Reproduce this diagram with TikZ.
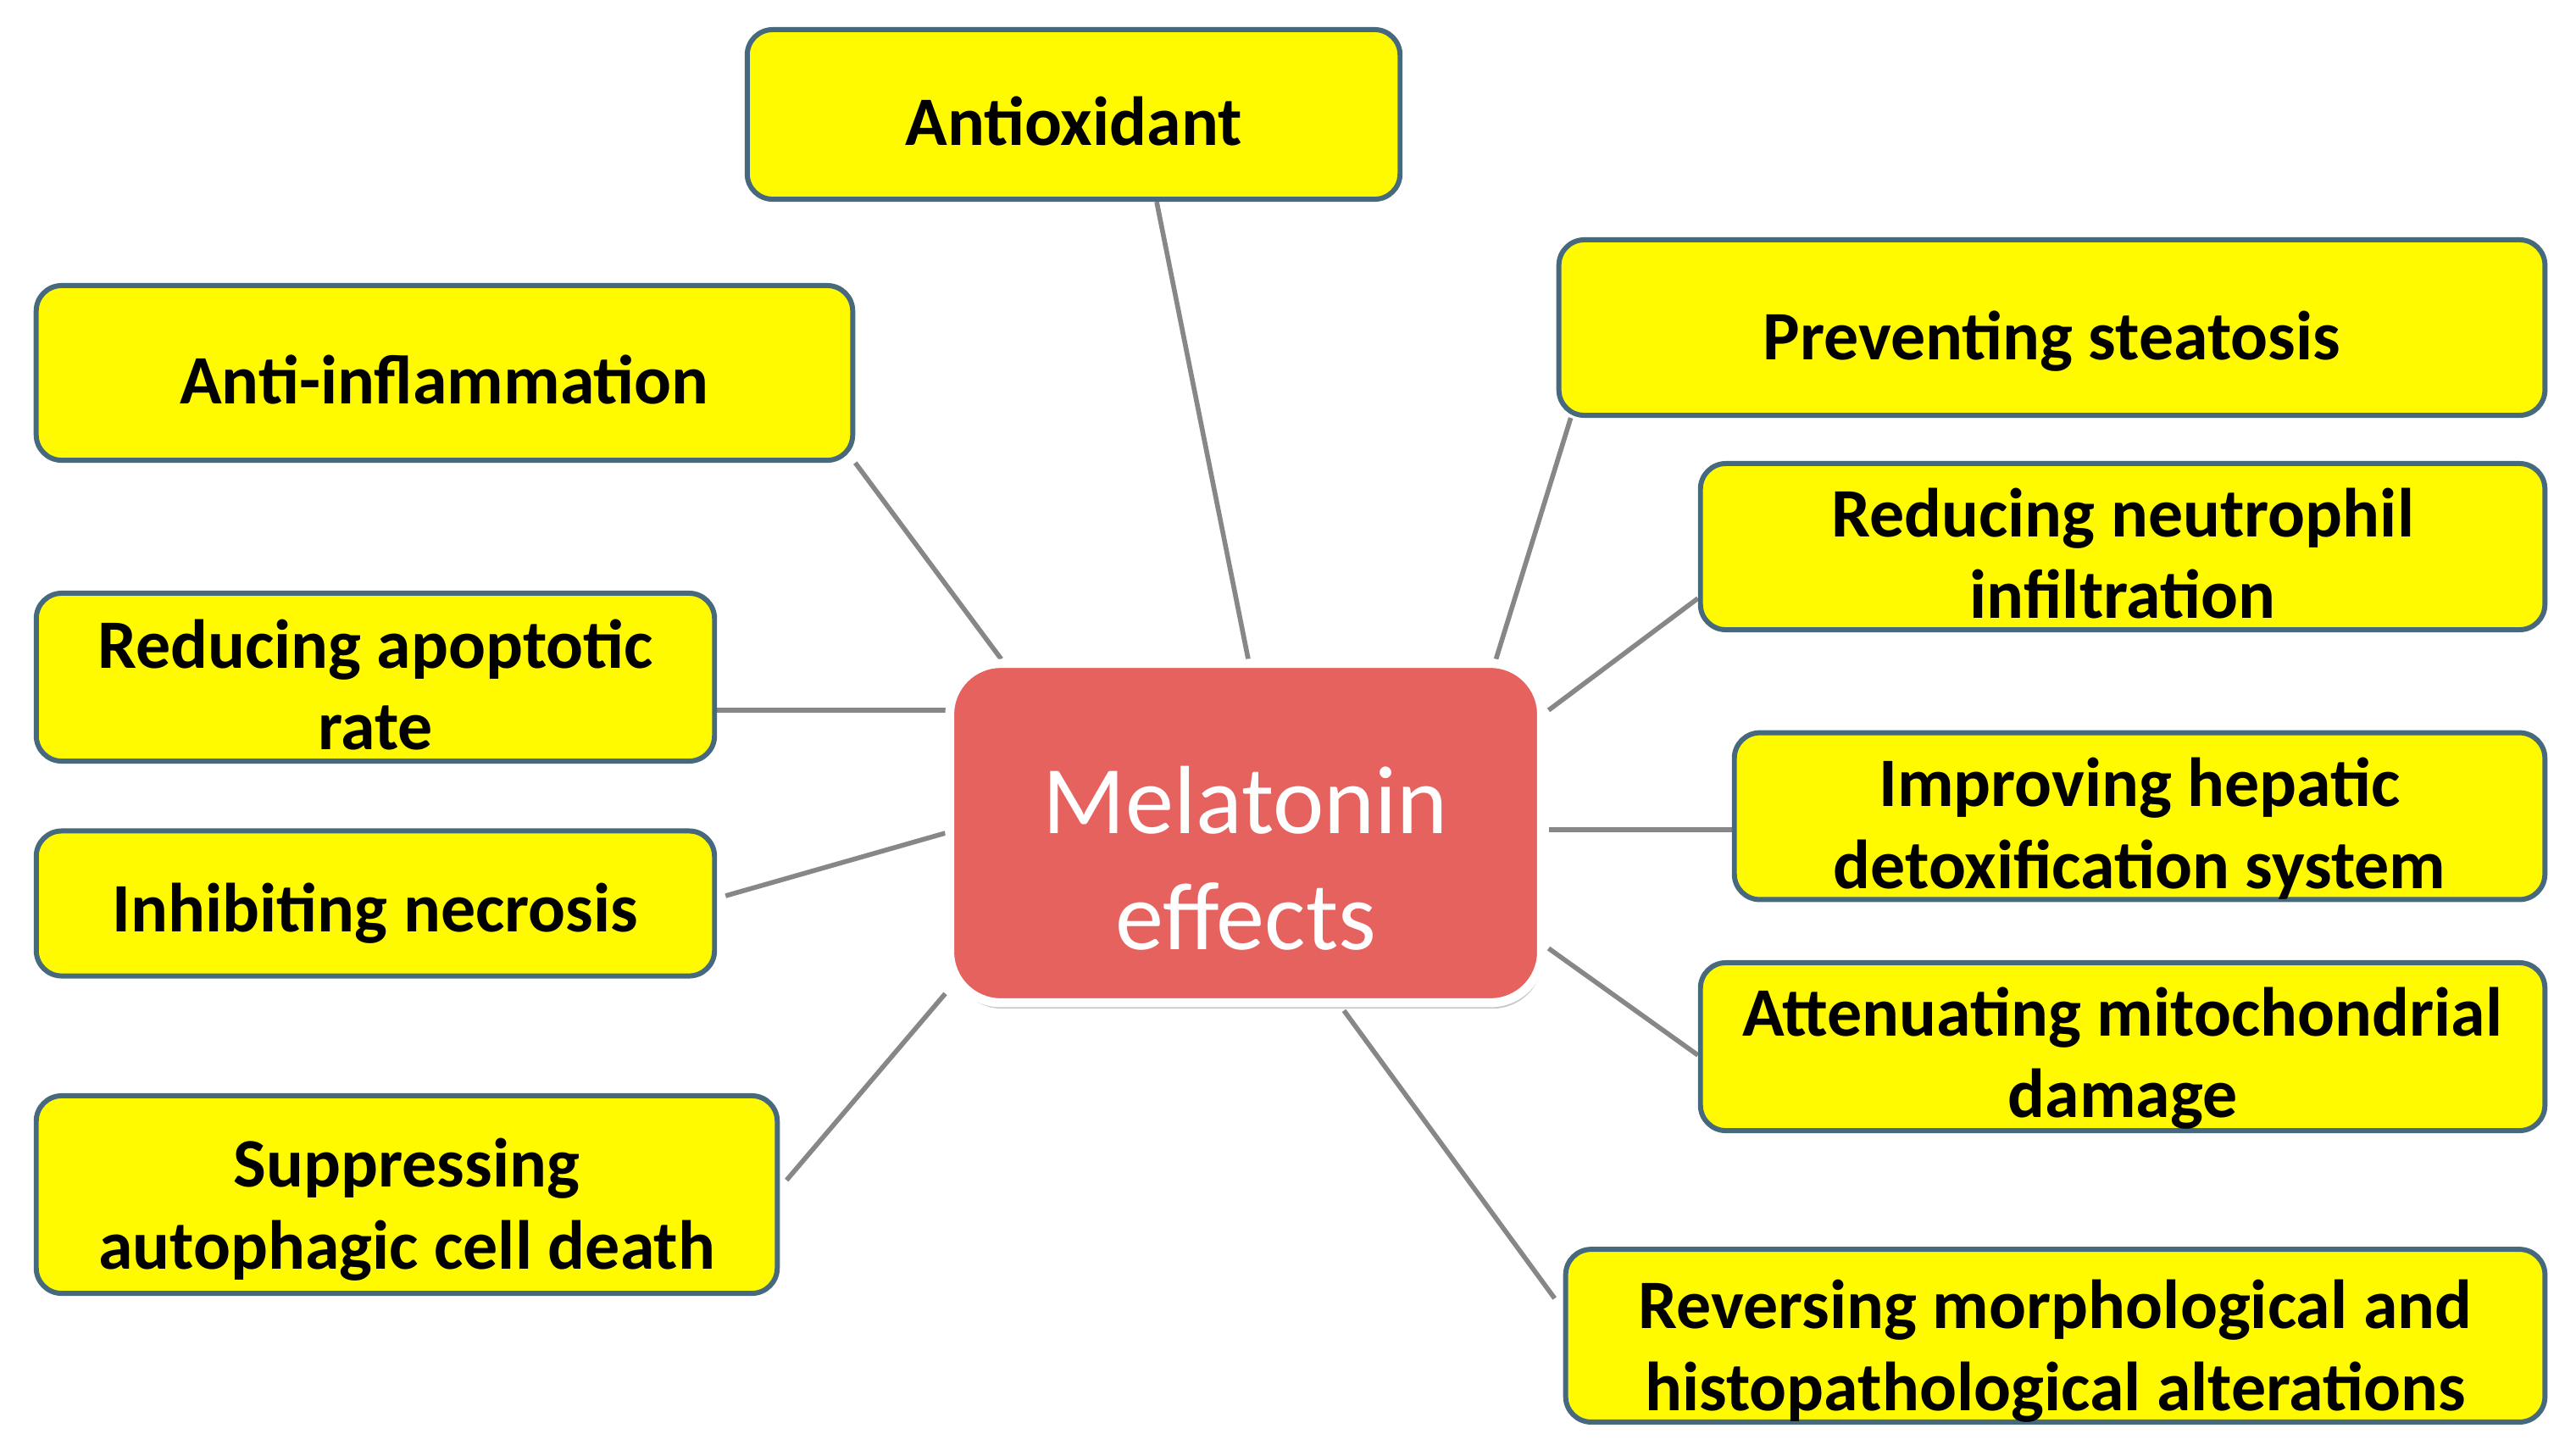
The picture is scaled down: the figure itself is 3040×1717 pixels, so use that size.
\documentclass[tikz,border=0pt]{standalone}
\usepackage{fontspec}
\setmainfont{Carlito}
\usetikzlibrary{calc,shadows,backgrounds}
\definecolor{boxfill}{RGB}{255,250,0}
\definecolor{boxline}{RGB}{70,105,125}
\definecolor{centerfill}{RGB}{229,98,94}
\definecolor{linkgray}{RGB}{135,135,135}
\begin{document}
\begin{tikzpicture}[x=0.01cm,y=-0.01cm,
  lift/.style={execute at begin node={\rule{0pt}{#1}}},
  effect/.style={draw=boxline, fill=boxfill, line width=1.7pt, rounded corners=0.3cm,
    align=center, font=\bfseries\fontsize{23.3}{27.5}\selectfont, inner sep=0pt},
  hub/.style={draw=white, fill=centerfill, line width=3pt, rounded corners=0.6cm,
    align=center, text=white, font=\fontsize{32.5}{39}\selectfont, inner sep=0pt,
    drop shadow={shadow xshift=0.02cm, shadow yshift=-0.07cm, opacity=0.35, fill=black!60}},
  link/.style={draw=linkgray, line width=1.6pt}]
\useasboundingbox (0,0) rectangle (3040,1717);

\node[hub, lift=78.5pt, minimum width=6.98cm, minimum height=4.00cm] (m) at (1470,983) {Melatonin\\effects};

\node[effect, lift=21pt, minimum width=7.70cm, minimum height=2.00cm] (ao) at (1267,135) {Antioxidant};
\node[effect, lift=21pt, minimum width=9.63cm, minimum height=2.06cm] (ai) at (524.5,440) {Anti-inflammation};
\node[effect, lift=49pt, minimum width=8.00cm, minimum height=1.98cm] (ap) at (443,799) {Reducing apoptotic\\rate};
\node[effect, lift=23pt, minimum width=8.00cm, minimum height=1.71cm] (ne) at (443,1066) {Inhibiting necrosis};
\node[effect, lift=54pt, minimum width=8.74cm, minimum height=2.33cm] (su) at (480,1409.5) {Suppressing\\autophagic cell death};
\node[effect, lift=25.3pt, minimum width=11.63cm, minimum height=2.07cm] (st) at (2421.5,386.5) {Preventing steatosis};
\node[effect, lift=48.4pt, minimum width=9.96cm, minimum height=1.96cm] (nu) at (2505,645) {Reducing neutrophil\\infiltration};
\node[effect, lift=52.3pt, minimum width=9.56cm, minimum height=1.92cm] (de) at (2525,963) {Improving hepatic\\detoxification system};
\node[effect, lift=51.7pt, minimum width=9.96cm, minimum height=1.98cm] (mi) at (2505,1235) {Attenuating mitochondrial\\damage};
\node[effect, lift=54pt, minimum width=11.55cm, minimum height=1.98cm] (re) at (2425.5,1576) {Reversing morphological and\\histopathological alterations};

\begin{scope}[on background layer]
  \fill[white] (0,0) rectangle (3040,1717);
  \draw[link] ($(ao.south)+(98,0)$) -- ($(m.north)+(3,0)$);
  \draw[link] (ai.south east) -- ($(m.north west)+(66,0)$);
  \draw[link] ($(ap.east)+(0,39)$) -- ($(m.west)+(0,-145)$);
  \draw[link] ($(ne.east)+(10,-9)$) -- (m.west);
  \draw[link] ($(su.east)+(8,-17)$) -- ($(m.south west)+(0,-16)$);
  \draw[link] ($(st.south west)+(17,0)$) -- ($(m.north east)+(-59,0)$);
  \draw[link] ($(nu.west)+(0,61)$) -- ($(m.east)+(3,-145)$);
  \draw[link] ($(de.west)+(0,16)$) -- ($(m.east)+(3,-4)$);
  \draw[link] ($(mi.west)+(0,10)$) -- ($(m.east)+(3,136)$);
  \draw[link] ($(re.west)+(-10,-44)$) -- ($(m.south)+(116,4)$);
\end{scope}
\end{tikzpicture}
\end{document}
